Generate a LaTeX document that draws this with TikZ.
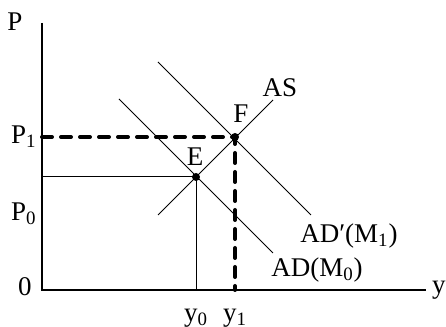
\documentclass[tikz,border=0pt]{standalone}
\usepackage{fontspec}
\setmainfont{Liberation Serif}
\tikzset{
  curve/.style={line width=0.5pt},
  guide/.style={line width=2pt,dash pattern=on 5pt off 4.5pt,line cap=round},
  lbl/.style={inner sep=0pt},
  eqdot/.style={circle,fill,inner sep=0pt,minimum size=4pt}
}
\begin{document}
\begin{tikzpicture}[x=0.5pt,y=0.5pt,font=\fontsize{13.5}{16}\selectfont]

            \useasboundingbox (-42,-37) rectangle (404,290);

            \coordinate (O) at (0,0);
            \coordinate (ytop) at (0,267);
            \coordinate (xend) at (384,0);
            \draw[line width=0.6pt] (ytop) -- (O) -- (xend);

            \coordinate (E) at (154,113);
            \coordinate (F) at (193,153);
            \coordinate (Ey) at (0,113);
            \coordinate (Ex) at (154,0);
            \coordinate (Fy) at (0,153);
            \coordinate (Fx) at (193,0);

            \coordinate (as0) at (116,75);
            \coordinate (as1) at (231,190);
            \coordinate (ad0a) at (77,191);
            \coordinate (ad0b) at (231,37);
            \coordinate (ad1a) at (116,228);
            \coordinate (ad1b) at (269,75);

            \draw[curve] (as0) -- (as1);
            \draw[curve] (ad0a) -- (ad0b);
            \draw[curve] (ad1a) -- (ad1b);

            \draw[curve] (Ey) -- (E) -- (Ex);
            \draw[guide] (Fy) -- (F) -- (Fx);

            \node[eqdot] (Edot) at (E) {};
            \node[eqdot] (Fdot) at (F) {};

            \node (Elbl) at (153,133) {E};
            \node (Flbl) at (199,176) {F};
            \node (ASlbl) at (238,202) {AS};
            \node (AD1lbl) at (307,54) {AD′(M\textsubscript{1})};
            \node (AD0lbl) at (275,20) {AD(M\textsubscript{0})};

            \node (Plbl) at (-27,268) {P};
            \node[lbl,anchor=east] (P1lbl) at (-5,153) {P\textsubscript{1}};
            \node[lbl,anchor=east] (P0lbl) at (-5,76) {P\textsubscript{0}};
            \node[lbl,anchor=east] (Olbl) at (-10,3) {0};
            \node (y0lbl) at (154,-28) {y\textsubscript{0}};
            \node (y1lbl) at (193,-28) {y\textsubscript{1}};
            \node[lbl,anchor=east] (ylbl) at (404,0) {y};
        \end{tikzpicture}
\end{document}
